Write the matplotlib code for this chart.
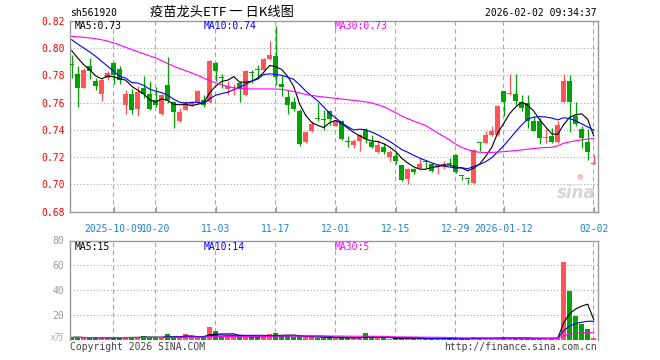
import matplotlib
matplotlib.use('Agg')
import matplotlib.pyplot as plt
import numpy as np
import pandas as pd

# ---------------- data ----------------
holidays = ['2025-10-01', '2025-10-02', '2025-10-03', '2025-10-06', '2025-10-07',
            '2025-10-08', '2026-01-01', '2026-01-02']
dates = [d for d in pd.bdate_range('2025-09-22', '2026-02-02')
         if d.strftime('%Y-%m-%d') not in holidays]

opens = [0.7880, 0.7810, 0.7710, 0.7866, 0.7760, 0.7665, 0.7780, 0.7890, 0.7849, 0.7580,
         0.7665, 0.7553, 0.7707, 0.7665, 0.7621, 0.7519, 0.7731, 0.7602, 0.7463, 0.7548,
         0.7580, 0.7597, 0.7621, 0.7604, 0.7890, 0.7785, 0.7702, 0.7705, 0.7744, 0.7658,
         0.7819, 0.7843, 0.7841, 0.7922, 0.7939, 0.7739, 0.7639, 0.7602, 0.7541, 0.7311,
         0.7390, 0.7484, 0.7478, 0.7541, 0.7431, 0.7468, 0.7314, 0.7287, 0.7316, 0.7400,
         0.7311, 0.7236, 0.7272, 0.7200, 0.7206, 0.7145, 0.7040, 0.7113, 0.7121, 0.7170,
         0.7153, 0.7126, 0.7128, 0.7154, 0.7219, 0.7065, 0.7043, 0.7011, 0.7313, 0.7304,
         0.7363, 0.7360, 0.7687, 0.7662, 0.7665, 0.7604, 0.7597, 0.7468, 0.7468, 0.7343,
         0.7353, 0.7311, 0.7604, 0.7761, 0.7504, 0.7409, 0.7309, 0.7150]
highs = [0.7950, 0.7866, 0.7850, 0.7930, 0.7780, 0.7770, 0.7834, 0.7900, 0.7866, 0.7695,
         0.7702, 0.7724, 0.7792, 0.7761, 0.7714, 0.7665, 0.7934, 0.7614, 0.7560, 0.7614,
         0.7614, 0.7690, 0.7658, 0.7915, 0.7900, 0.7810, 0.7756, 0.7736, 0.7760, 0.7841,
         0.7841, 0.7878, 0.7930, 0.8054, 0.8164, 0.7805, 0.7695, 0.7639, 0.7556, 0.7394,
         0.7463, 0.7597, 0.7548, 0.7548, 0.7475, 0.7473, 0.7358, 0.7336, 0.7370, 0.7414,
         0.7365, 0.7328, 0.7304, 0.7255, 0.7243, 0.7145, 0.7121, 0.7121, 0.7194, 0.7182,
         0.7158, 0.7145, 0.7170, 0.7190, 0.7226, 0.7065, 0.7043, 0.7260, 0.7313, 0.7390,
         0.7426, 0.7580, 0.7687, 0.7810, 0.7810, 0.7658, 0.7658, 0.7500, 0.7487, 0.7409,
         0.7414, 0.7468, 0.7810, 0.7800, 0.7604, 0.7426, 0.7409, 0.7214]
lows = [0.7780, 0.7565, 0.7705, 0.7770, 0.7695, 0.7614, 0.7768, 0.7739, 0.7739, 0.7519,
        0.7519, 0.7500, 0.7634, 0.7543, 0.7570, 0.7510, 0.7597, 0.7414, 0.7458, 0.7543,
        0.7573, 0.7590, 0.7565, 0.7597, 0.7760, 0.7707, 0.7658, 0.7653, 0.7604, 0.7646,
        0.7744, 0.7780, 0.7834, 0.7915, 0.7727, 0.7646, 0.7519, 0.7536, 0.7280, 0.7304,
        0.7385, 0.7463, 0.7400, 0.7438, 0.7426, 0.7328, 0.7272, 0.7267, 0.7248, 0.7304,
        0.7267, 0.7231, 0.7224, 0.7170, 0.7153, 0.7023, 0.7000, 0.7080, 0.7116, 0.7121,
        0.7091, 0.7077, 0.7116, 0.7133, 0.7086, 0.7031, 0.7000, 0.7006, 0.7243, 0.7299,
        0.7358, 0.7358, 0.7500, 0.7658, 0.7580, 0.7536, 0.7414, 0.7390, 0.7297, 0.7304,
        0.7304, 0.7304, 0.7604, 0.7385, 0.7426, 0.7267, 0.7182, 0.7146]
closes = [0.7876, 0.7710, 0.7840, 0.7830, 0.7720, 0.7768, 0.7820, 0.7805, 0.7763, 0.7665,
          0.7543, 0.7678, 0.7665, 0.7553, 0.7580, 0.7658, 0.7621, 0.7529, 0.7529, 0.7602,
          0.7597, 0.7683, 0.7580, 0.7907, 0.7829, 0.7780, 0.7724, 0.7712, 0.7702, 0.7829,
          0.7815, 0.7840, 0.7922, 0.7951, 0.7788, 0.7712, 0.7585, 0.7556, 0.7299, 0.7382,
          0.7446, 0.7482, 0.7475, 0.7480, 0.7463, 0.7336, 0.7311, 0.7316, 0.7360, 0.7336,
          0.7272, 0.7287, 0.7236, 0.7236, 0.7170, 0.7031, 0.7116, 0.7089, 0.7153, 0.7168,
          0.7096, 0.7145, 0.7153, 0.7150, 0.7092, 0.7062, 0.7040, 0.7255, 0.7304, 0.7365,
          0.7390, 0.7573, 0.7604, 0.7665, 0.7609, 0.7560, 0.7463, 0.7394, 0.7341, 0.7346,
          0.7311, 0.7438, 0.7761, 0.7604, 0.7443, 0.7341, 0.7238, 0.7152]
volumes = [1.8, 2.0, 1.5, 1.6, 1.4, 1.8, 1.5, 2.0, 1.7, 1.9,
           2.0, 1.8, 2.7, 1.8, 1.6, 1.7, 4.5, 2.2, 1.9, 4.5,
           2.0, 1.8, 1.9, 9.9, 6.7, 2.5, 2.3, 2.0, 3.0, 2.6,
           2.2, 2.0, 2.4, 4.8, 5.6, 3.0, 2.7, 2.5, 2.7, 2.2,
           2.0, 1.6, 1.5, 1.8, 1.4, 1.9, 1.3, 1.2, 1.5, 5.6,
           1.2, 1.0, 1.1, 0.9, 1.2, 1.5, 1.3, 0.9, 0.8, 0.8,
           1.0, 0.9, 0.8, 0.7, 1.2, 0.7, 0.8, 2.1, 1.2, 1.0,
           0.9, 1.4, 2.1, 1.0, 1.2, 0.9, 1.1, 0.8, 1.2, 1.1,
           1.2, 1.2, 63.0, 39.5, 19.0, 13.0, 8.7, 1.0]
# moving-average values before enough candles are on screen
ma5_head = [0.7980, 0.7927, 0.7878, 0.7841]
ma10_head = [0.8061, 0.8029, 0.8000, 0.7971, 0.7939, 0.7902, 0.7866, 0.7829, 0.7792]
ma30 = [0.8085, 0.8082, 0.8078, 0.8074, 0.8068, 0.8060, 0.8050, 0.8037, 0.8022, 0.8005,
        0.7988, 0.7973, 0.7958, 0.7942, 0.7927, 0.7907, 0.7886, 0.7866, 0.7849, 0.7833,
        0.7817, 0.7799, 0.7780, 0.7760, 0.7745, 0.7731, 0.7718, 0.7707, 0.7703, 0.7701,
        0.7700, 0.7700, 0.7700, 0.7700, 0.7699, 0.7697, 0.7690, 0.7680, 0.7670, 0.7660,
        0.7652, 0.7646, 0.7641, 0.7636, 0.7631, 0.7626, 0.7621, 0.7616, 0.7611, 0.7605,
        0.7597, 0.7584, 0.7569, 0.7548, 0.7525, 0.7502, 0.7482, 0.7464, 0.7448, 0.7431,
        0.7405, 0.7377, 0.7352, 0.7325, 0.7295, 0.7272, 0.7254, 0.7242, 0.7236, 0.7234,
        0.7235, 0.7237, 0.7240, 0.7244, 0.7248, 0.7253, 0.7258, 0.7263, 0.7268, 0.7270,
        0.7272, 0.7283, 0.7302, 0.7312, 0.7320, 0.7327, 0.7333, 0.7336]
tick_dates = ['2025-10-09', '2025-10-20', '2025-11-03', '2025-11-17', '2025-12-01',
              '2025-12-15', '2025-12-29', '2026-01-12', '2026-02-02']
tick_labels = ['2025-10-09', '10-20', '11-03', '11-17', '12-01', '12-15', '12-29',
               '2026-01-12', '02-02']
price_ticks = [0.68, 0.70, 0.72, 0.74, 0.76, 0.78, 0.80, 0.82]
vol_ticks = [20, 40, 60, 80]
code = 'sh561920'
title = '疫苗龙头ETF 一 日K线图'
stamp = '2026-02-02 09:34:37'
price_ma_labels = ['MA5:0.73', 'MA10:0.74', 'MA30:0.73']
vol_ma_labels = ['MA5:15', 'MA10:14', 'MA30:5']

# ---------------- figure ----------------
W, H = 660, 360
fig = plt.figure(figsize=(W / 100, H / 100), dpi=100)
MONO = 'DejaVu Sans Mono'
UP, DN = '#ff5555', '#00a400'
MA_COLORS = ['#000000', '#0000ff', '#ff00ff']
GRID = '#a8a8a8'
SPINE = '#999999'


def rect(x0, y0, x1, y1):
    return [x0 / W, 1 - y1 / H, (x1 - x0) / W, (y1 - y0) / H]


def T(xp, yp, s, **kw):
    kw.setdefault('family', MONO)
    kw.setdefault('fontsize', 7)
    kw.setdefault('va', 'center')
    fig.text(xp / W, 1 - yp / H, s, **kw)


axp = fig.add_axes(rect(70, 20.7, 597.5, 211.7))
axv = fig.add_axes(rect(70, 240.5, 597.5, 339.7))

n = len(dates)
x = np.arange(n)
o, hi, lo, c = map(np.array, (opens, highs, lows, closes))
up = c > o
colors = np.where(up, UP, DN)

date_str = [d.strftime('%Y-%m-%d') for d in dates]
tick_pos = [date_str.index(d) for d in tick_dates]

xlim = (-0.28, 87.63)
for ax in (axp, axv):
    ax.set_xlim(*xlim)
    for s in ax.spines.values():
        s.set_color(SPINE)
        s.set_linewidth(1.0)
    for p in tick_pos:
        ax.axvline(p - 0.15, color=GRID, lw=0.8, ls=(0, (4, 3)), zorder=0)
axv.spines['bottom'].set_visible(False)

# price panel
axp.set_ylim(0.68, 0.82)
for yv in price_ticks[1:-1]:
    axp.axhline(yv, color=GRID, lw=0.8, ls=(0, (1, 2)), zorder=0)
axp.vlines(x, lo, hi, colors=colors, lw=0.9, zorder=2)
diff = np.abs(c - o)
minh = 0.0008
body_h = np.maximum(diff, minh)
body_b = np.where(diff < minh, (o + c) / 2 - minh / 2, np.minimum(o, c))
axp.bar(x, body_h, bottom=body_b, width=0.76, color=colors, linewidth=0, zorder=3)

s = pd.Series(closes)
ma5 = s.rolling(5).mean().to_numpy()
ma5[:len(ma5_head)] = ma5_head
ma10 = s.rolling(10).mean().to_numpy()
ma10[:len(ma10_head)] = ma10_head
for arr, col in zip((ma5, ma10, ma30), MA_COLORS):
    axp.plot(x, arr, color=col, lw=0.8, zorder=4)

axp.set_yticks(price_ticks)
axp.set_yticklabels(['%.2f' % v for v in price_ticks], family=MONO, fontsize=7, color='#ff0000')
axp.tick_params(axis='y', length=0, pad=4)
axp.set_xticks(tick_pos)
axp.set_xticklabels(tick_labels, family=MONO, fontsize=7, color='#1a86d0')
axp.tick_params(axis='x', direction='in', length=4, color=SPINE, pad=9)

# volume panel
axv.set_ylim(0, 80)
for yv in vol_ticks[:-1]:
    axv.axhline(yv, color=GRID, lw=0.8, ls=(0, (1, 2)), zorder=0)
axv.bar(x, volumes, width=0.76, color=colors, linewidth=0, zorder=2)
vs = pd.Series(volumes)
for win, col in zip((5, 10, 30), MA_COLORS):
    axv.plot(x, vs.rolling(win, min_periods=1).mean(), color=col, lw=0.8, zorder=3)
axv.set_yticks(vol_ticks)
axv.set_yticklabels([str(v) for v in vol_ticks], family=MONO, fontsize=7, color='#999999')
axv.tick_params(axis='y', length=0, pad=4)
axv.set_xticks([])

# texts
T(70, 13, code, ha='left', color='#000000')
T(222, 12.5, title, ha='center', family=['Noto Sans CJK SC', 'DejaVu Sans'], fontsize=9.5, color='#000000')
T(597, 13, stamp, ha='right', color='#000000')
for lab, col, xp in zip(price_ma_labels, MA_COLORS, (75, 204, 334.7)):
    T(xp, 26, lab, ha='left', color=col)
for lab, col, xp in zip(vol_ma_labels, MA_COLORS, (75, 204, 334.7)):
    T(xp, 246.5, lab, ha='left', color=col)
T(70, 346.5, 'Copyright 2026 SINA.COM', ha='left', color='#444444')
T(597, 346.5, 'http://finance.sina.com.cn', ha='right', color='#444444')
T(64, 338, 'x万', ha='right', family=['Noto Sans CJK SC', 'DejaVu Sans'], fontsize=6.5, color='#aaaaaa')
T(576, 193, 'sina', ha='center', fontsize=12, family='DejaVu Sans', fontweight='bold',
  style='italic', color='#d6d6d6')
T(580, 176, '●', ha='center', fontsize=5.5, family='DejaVu Sans', color='#f3c4c4')

fig.savefig('out.png', dpi=100)
